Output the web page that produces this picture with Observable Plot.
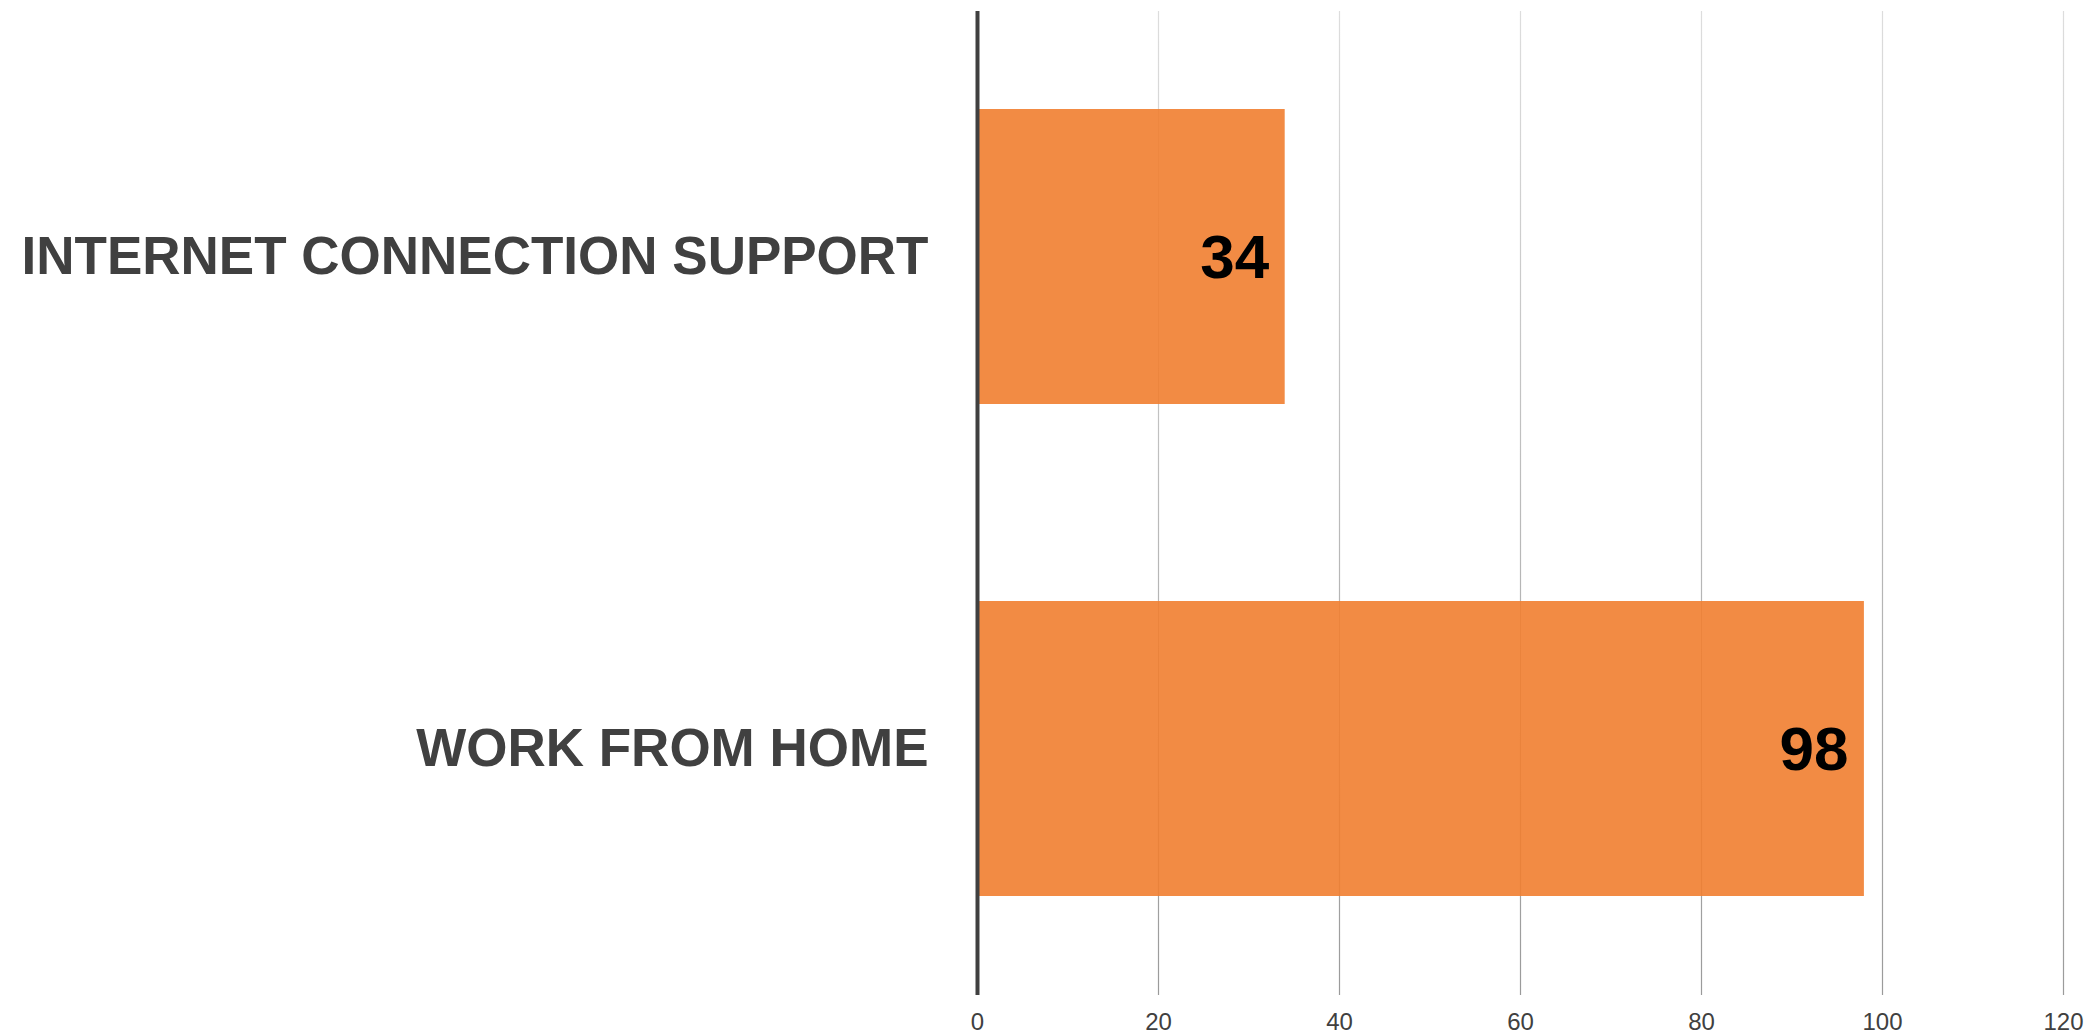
<!DOCTYPE html>
<html>
<head>
<meta charset="utf-8">
<script src="https://cdn.jsdelivr.net/npm/d3@7"></script>
<script src="https://cdn.jsdelivr.net/npm/@observablehq/plot@0.6"></script>
<style>
  html, body { margin: 0; padding: 0; background: #fff; }
  #chart svg { display: block; }
</style>
</head>
<body>
<div id="chart"></div>
<script>
const categories = ["INTERNET CONNECTION SUPPORT", "WORK FROM HOME"];
const values = [34, 98];
const xTicks = [0, 20, 40, 60, 80, 100, 120];

const data = categories.map((c, i) => ({category: c, value: values[i]}));

const chart = Plot.plot({
  width: 2085,
  height: 1034,
  marginLeft: 977,
  marginRight: 22,
  marginTop: 11,
  marginBottom: 39,
  style: {fontFamily: "'Liberation Sans', Arial, sans-serif", background: "#fff"},
  x: {domain: [0, 120], ticks: xTicks, label: null},
  y: {domain: categories, paddingInner: 0.4, paddingOuter: 0.2, label: null},
  marks: [
    Plot.ruleX(xTicks.filter(d => d !== 0), {x: d => d, stroke: "url(#gridGrad)", strokeWidth: 1.2}),
    Plot.barX(data, {x: "value", y: "category", fill: "#F17E30", fillOpacity: 0.9}),
    Plot.ruleX([0], {stroke: "#404040", strokeWidth: 4}),
    Plot.axisX({ticks: xTicks, tickSize: 0, tickPadding: 17, fontSize: 24, fill: "#404040", label: null, tickFormat: d => String(d)}),
    Plot.axisY({tickSize: 0, tickPadding: 49, fontSize: 53, fontWeight: "bold", fill: "#404040", label: null}),
    Plot.text(data, {x: "value", y: "category", text: d => String(d.value), textAnchor: "end", dx: -16, dy: 1, fontSize: 62, fontWeight: "bold", fill: "#000"})
  ]
});

const ns = "http://www.w3.org/2000/svg";
const defs = document.createElementNS(ns, "defs");
const grad = document.createElementNS(ns, "linearGradient");
grad.setAttribute("id", "gridGrad");
grad.setAttribute("gradientUnits", "userSpaceOnUse");
grad.setAttribute("x1", "0"); grad.setAttribute("x2", "0");
grad.setAttribute("y1", "11"); grad.setAttribute("y2", "995");
[["0", "#dddddd"], ["1", "#9a9a9a"]].forEach(([o, c]) => {
  const s = document.createElementNS(ns, "stop");
  s.setAttribute("offset", o);
  s.setAttribute("stop-color", c);
  grad.appendChild(s);
});
defs.appendChild(grad);
chart.insertBefore(defs, chart.firstChild);

document.getElementById("chart").appendChild(chart);
</script>
</body>
</html>
